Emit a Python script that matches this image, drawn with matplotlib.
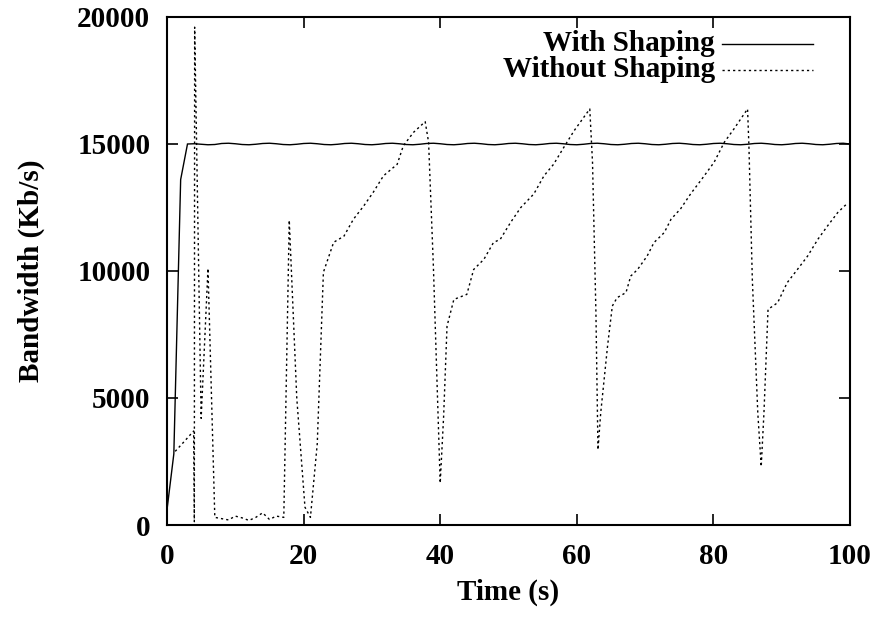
import matplotlib
matplotlib.use("Agg")
import matplotlib.pyplot as plt

# ---- data ----
time_with = [0, 1, 2, 3, 4, 5, 6, 7, 8, 9, 10, 11, 12, 13, 14, 15, 16, 17, 18, 19,
             20, 21, 22, 23, 24, 25, 26, 27, 28, 29, 30, 31, 32, 33, 34, 35, 36, 37, 38, 39,
             40, 41, 42, 43, 44, 45, 46, 47, 48, 49, 50, 51, 52, 53, 54, 55, 56, 57, 58, 59,
             60, 61, 62, 63, 64, 65, 66, 67, 68, 69, 70, 71, 72, 73, 74, 75, 76, 77, 78, 79,
             80, 81, 82, 83, 84, 85, 86, 87, 88, 89, 90, 91, 92, 93, 94, 95, 96, 97, 98, 99, 100]
bw_with = [600, 2800, 13600, 15000, 15010, 14990, 14970, 14980, 15020, 15030, 15010, 14980,
           14970, 14990, 15020, 15030, 15010, 14980, 14970, 14990, 15020, 15030, 15010, 14980,
           14970, 14990, 15020, 15030, 15010, 14980, 14970, 14990, 15020, 15030, 15010, 14980,
           14970, 14990, 15020, 15030, 15010, 14980, 14970, 14990, 15020, 15030, 15010, 14980,
           14970, 14990, 15020, 15030, 15010, 14980, 14970, 14990, 15020, 15030, 15010, 14980,
           14970, 14990, 15020, 15030, 15010, 14980, 14970, 14990, 15020, 15030, 15010, 14980,
           14970, 14990, 15020, 15030, 15010, 14980, 14970, 14990, 15020, 15030, 15010, 14980,
           14970, 14990, 15020, 15030, 15010, 14980, 14970, 14990, 15020, 15030, 15010, 14980,
           14970, 14990, 15020, 15030, 15000]

time_without = [1.2, 2.4, 3.9, 4.0, 4.05, 5.0, 6.0, 7.0, 8, 9, 10, 11, 12, 13, 14, 15, 16, 17.1,
                17.9, 19.0, 20.2, 21.0, 22.0, 22.9, 24.4, 25.9, 27.3, 28.8, 30.2, 31.7, 33.7,
                34.6, 36.1, 37.8, 38.3, 39.0, 40.0, 40.5, 41.0, 42.0, 43.9, 44.9, 46.4, 47.8,
                48.8, 50.3, 51.8, 53.7, 55.2, 56.6, 58.1, 59.6, 61.9, 62.3, 62.8, 63.1, 63.5,
                64.5, 65.2, 65.9, 67.2, 67.9, 68.9, 70.3, 71.3, 72.8, 73.8, 75.2, 76.7, 78.2,
                80.1, 81.6, 83.0, 85.0, 85.2, 85.7, 86.5, 87.0, 87.4, 88.0, 89.4, 90.8, 92.3,
                93.8, 95.3, 96.7, 98.2, 99.2, 99.6]
bw_without = [2900, 3250, 3700, 130, 19600, 4200, 10100, 300, 250, 200, 350, 280, 180, 300,
              480, 220, 350, 300,
              12000, 5000, 700, 300, 3200, 9950, 11130, 11370, 12040, 12560, 13100, 13750, 14200,
              14930, 15460, 15880, 15070, 10200, 1650, 4270, 7830, 8880, 9080, 10060, 10460, 11120,
              11250, 11910, 12500, 13030, 13750, 14200, 14870, 15520, 16380, 14280, 8360, 2960, 4410,
              7040, 8620, 8950, 9150, 9800, 10060, 10590, 11120, 11510, 12040, 12450, 13050, 13580,
              14280, 15070, 15590, 16380, 14930, 9670, 4410, 2300, 4410, 8490, 8750, 9540, 10060,
              10590, 11250, 11770, 12300, 12560, 12650]

x_ticks = [0, 20, 40, 60, 80, 100]
y_ticks = [0, 5000, 10000, 15000, 20000]
labels = ["With Shaping", "Without Shaping"]

FONT = "Liberation Serif"
FS = 21

fig = plt.figure(figsize=(8.75, 6.18), dpi=100)
ax = fig.add_axes([167/875, 1-525/618, 683/875, 508/618])

ax.plot(time_with, bw_with, color="black", lw=1.0, solid_joinstyle="miter")
ax.plot(time_without, bw_without, color="black", lw=1.0, linestyle=(0, (1.6, 2.2)))

ax.set_xlim(0, 100)
ax.set_ylim(0, 20000)
ax.set_xticks(x_ticks)
ax.set_yticks(y_ticks)
ax.tick_params(direction="in", length=8, width=1.2, top=True, right=True)
ax.tick_params(axis="y", pad=12)
ax.tick_params(axis="x", pad=13)
for lab in ax.get_xticklabels() + ax.get_yticklabels():
    lab.set_fontfamily(FONT)
    lab.set_fontweight("bold")
    lab.set_fontsize(FS)
for s in ax.spines.values():
    s.set_linewidth(1.5)

ax.set_xlabel("Time (s)", fontfamily=FONT, fontweight="bold", fontsize=FS, labelpad=6)
ax.set_ylabel("Bandwidth (Kb/s)", fontfamily=FONT, fontweight="bold", fontsize=FS, labelpad=23)

# gnuplot-style key
key_rows = [0.947, 0.896]
styles = ["-", (0, (1.6, 2.2))]
for lab, yy, st in zip(labels, key_rows, styles):
    ax.text(0.802, yy, lab, transform=ax.transAxes, ha="right", va="center",
            fontfamily=FONT, fontweight="bold", fontsize=FS)
    ax.plot([0.813, 0.946], [yy, yy], transform=ax.transAxes, color="black",
            lw=1.0, linestyle=st)

fig.savefig("out.png", dpi=100)
